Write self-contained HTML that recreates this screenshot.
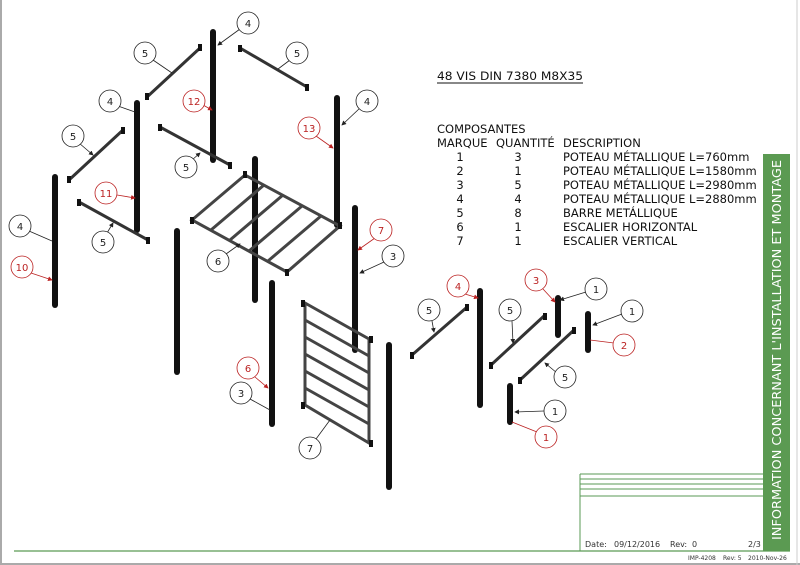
<!DOCTYPE html>
<html><head><meta charset="utf-8"><style>
html,body{margin:0;padding:0;background:#fff}
svg{display:block}
text{font-family:"DejaVu Sans","Liberation Sans",sans-serif}
</style></head><body>
<svg width="800" height="565" viewBox="0 0 800 565" xmlns="http://www.w3.org/2000/svg">
<defs>
<marker id="ab" markerWidth="6" markerHeight="6" refX="5" refY="3" orient="auto"><path d="M0,0 L6,3 L0,6z" fill="#222"/></marker>
<marker id="ar" markerWidth="6" markerHeight="6" refX="5" refY="3" orient="auto"><path d="M0,0 L6,3 L0,6z" fill="#b22"/></marker>
</defs>
<rect x="0" y="0" width="800" height="565" fill="#fff"/>
<line x1="1" y1="0" x2="1" y2="565" stroke="#aaa" stroke-width="2"/>
<line x1="0" y1="564" x2="800" y2="564" stroke="#aaa" stroke-width="2"/>
<line x1="797" y1="0" x2="797" y2="565" stroke="#ccc" stroke-width="1"/>
<line x1="14" y1="551" x2="790" y2="551" stroke="#5a9a55" stroke-width="1.2"/>
<!-- title block -->
<g stroke="#5a9a55" stroke-width="1" fill="none">
<line x1="580" y1="474" x2="763" y2="474"/>
<line x1="580" y1="479" x2="763" y2="479"/>
<line x1="580" y1="484" x2="763" y2="484"/>
<line x1="580" y1="489" x2="763" y2="489"/>
<line x1="580" y1="496" x2="763" y2="496"/>
<line x1="580" y1="474" x2="580" y2="551"/>
</g>
<rect x="763" y="154" width="27" height="397" fill="#5b9a52"/>
<text transform="translate(781,540) rotate(-90)" font-size="12.5" fill="#fff" textLength="380" lengthAdjust="spacingAndGlyphs">INFORMATION CONCERNANT L'INSTALLATION ET MONTAGE</text>
<text x="585" y="547" font-size="8" fill="#333">Date:</text>
<text x="614" y="547" font-size="8" fill="#333">09/12/2016</text>
<text x="670" y="547" font-size="8" fill="#333">Rev:</text>
<text x="692" y="547" font-size="8" fill="#333">0</text>
<text x="748" y="547" font-size="8" fill="#333">2/3</text>
<text x="688" y="560" font-size="6" fill="#333">IMP-4208</text>
<text x="723" y="560" font-size="6" fill="#333">Rev: 5</text>
<text x="748" y="560" font-size="6" fill="#333">2010-Nov-26</text>
<!-- header text -->
<g font-size="11.5" fill="#111">
<text x="437" y="80" textLength="146" lengthAdjust="spacingAndGlyphs">48 VIS DIN 7380 M8X35</text>
<line x1="437" y1="83" x2="583" y2="83" stroke="#111" stroke-width="1"/>
<text x="437" y="133">COMPOSANTES</text>
<text x="437" y="147">MARQUE</text>
<text x="496" y="147">QUANTITÉ</text>
<text x="563" y="147">DESCRIPTION</text>
<g text-anchor="middle">
<text x="460" y="161">1</text><text x="518" y="161">3</text>
<text x="460" y="175">2</text><text x="518" y="175">1</text>
<text x="460" y="189">3</text><text x="518" y="189">5</text>
<text x="460" y="203">4</text><text x="518" y="203">4</text>
<text x="460" y="217">5</text><text x="518" y="217">8</text>
<text x="460" y="231">6</text><text x="518" y="231">1</text>
<text x="460" y="245">7</text><text x="518" y="245">1</text>
</g>
<text x="563" y="161">POTEAU MÉTALLIQUE L=760mm</text>
<text x="563" y="175">POTEAU MÉTALLIQUE L=1580mm</text>
<text x="563" y="189">POTEAU MÉTALLIQUE L=2980mm</text>
<text x="563" y="203">POTEAU MÉTALLIQUE L=2880mm</text>
<text x="563" y="217">BARRE METÁLLIQUE</text>
<text x="563" y="231">ESCALIER HORIZONTAL</text>
<text x="563" y="245">ESCALIER VERTICAL</text>
</g>
<!-- posts -->
<g stroke="#111" stroke-width="6" stroke-linecap="round">
<line x1="213" y1="32" x2="213" y2="160"/>
<line x1="137" y1="103" x2="137" y2="230"/>
<line x1="55" y1="177" x2="55" y2="305"/>
<line x1="337" y1="98" x2="337" y2="225"/>
<line x1="255" y1="159" x2="255" y2="300"/>
<line x1="177" y1="231" x2="177" y2="372"/>
<line x1="355" y1="208" x2="355" y2="350"/>
<line x1="272" y1="283" x2="272" y2="424"/>
<line x1="389" y1="345" x2="389" y2="487"/>
<line x1="480" y1="291" x2="480" y2="405"/>
<line x1="558" y1="298" x2="558" y2="335"/>
<line x1="588" y1="314" x2="588" y2="350"/>
<line x1="510" y1="386" x2="510" y2="422"/>
</g>
<!-- bars -->
<g stroke="#333" stroke-width="3">
<line x1="147" y1="97" x2="200" y2="48"/>
<line x1="240" y1="48" x2="307" y2="87"/>
<line x1="69" y1="180" x2="123" y2="130"/>
<line x1="160" y1="127" x2="230" y2="165"/>
<line x1="79" y1="202" x2="148" y2="240"/>
<line x1="412" y1="355" x2="466" y2="308"/>
<line x1="491" y1="365" x2="544" y2="316"/>
<line x1="520" y1="380" x2="574" y2="330"/>
</g>
<g fill="#111">
<rect x="145" y="93" width="4" height="7"/><rect x="198" y="44" width="4" height="7"/>
<rect x="238" y="45" width="4" height="7"/><rect x="305" y="84" width="4" height="7"/>
<rect x="67" y="176" width="4" height="7"/><rect x="121" y="127" width="4" height="7"/>
<rect x="158" y="124" width="4" height="7"/><rect x="228" y="162" width="4" height="7"/>
<rect x="77" y="199" width="4" height="7"/><rect x="146" y="237" width="4" height="7"/>
<rect x="410" y="352" width="4" height="7"/><rect x="465" y="304" width="4" height="7"/>
<rect x="489" y="362" width="4" height="7"/><rect x="543" y="313" width="4" height="7"/>
<rect x="518" y="377" width="4" height="7"/><rect x="572" y="327" width="4" height="7"/>
</g>
<!-- platform 6 -->
<g stroke="#444" stroke-width="3" fill="none">
<polygon points="192,220 245,175 340,226 287,272"/>
<line x1="211" y1="230" x2="264" y2="185"/>
<line x1="230" y1="240" x2="283" y2="195"/>
<line x1="249" y1="251" x2="302" y2="206"/>
<line x1="268" y1="261" x2="321" y2="216"/>
</g>
<g fill="#111"><rect x="190" y="217" width="4" height="7"/><rect x="243" y="171" width="4" height="7"/><rect x="338" y="222" width="4" height="7"/><rect x="285" y="269" width="4" height="7"/></g>
<!-- ladder 7 -->
<g stroke="#444" stroke-width="3" fill="none">
<polygon points="305,303 369,339 369,443 305,405"/>
<line x1="305" y1="320" x2="369" y2="356"/>
<line x1="305" y1="337" x2="369" y2="373"/>
<line x1="305" y1="354" x2="369" y2="390"/>
<line x1="305" y1="371" x2="369" y2="407"/>
<line x1="305" y1="388" x2="369" y2="424"/>
</g>
<g fill="#111"><rect x="301" y="300" width="4" height="7"/><rect x="369" y="336" width="4" height="7"/><rect x="301" y="402" width="4" height="7"/><rect x="369" y="440" width="4" height="7"/></g>
<!-- labels -->
<g font-size="10" text-anchor="middle" fill="none">
<g stroke="#222" stroke-width="0.8">
<line x1="240" y1="29" x2="218" y2="45" marker-end="url(#ab)"/>
<line x1="153" y1="60" x2="172" y2="73"/>
<line x1="290" y1="60" x2="278" y2="69"/>
<line x1="118" y1="106" x2="135" y2="112"/>
<line x1="360" y1="108" x2="342" y2="125" marker-end="url(#ab)"/>
<line x1="79" y1="143" x2="93" y2="155" marker-end="url(#ab)"/>
<line x1="192" y1="160" x2="200" y2="153" marker-end="url(#ab)"/>
<line x1="29" y1="231" x2="52" y2="241"/>
<line x1="107" y1="233" x2="113" y2="223" marker-end="url(#ab)"/>
<line x1="226" y1="254" x2="240" y2="244" marker-end="url(#ab)"/>
<line x1="384" y1="262" x2="360" y2="273" marker-end="url(#ab)"/>
<line x1="250" y1="399" x2="270" y2="410"/>
<line x1="316" y1="439" x2="330" y2="420"/>
<line x1="432" y1="321" x2="434" y2="332" marker-end="url(#ab)"/>
<line x1="512" y1="321" x2="513" y2="343" marker-end="url(#ab)"/>
<line x1="586" y1="292" x2="560" y2="300" marker-end="url(#ab)"/>
<line x1="622" y1="314" x2="593" y2="325" marker-end="url(#ab)"/>
<line x1="557" y1="373" x2="545" y2="363" marker-end="url(#ab)"/>
<line x1="544" y1="411" x2="515" y2="412" marker-end="url(#ab)"/>
</g>
<g stroke="#b22" stroke-width="0.8">
<line x1="203" y1="105" x2="212" y2="110" marker-end="url(#ar)"/>
<line x1="316" y1="136" x2="333" y2="148" marker-end="url(#ar)"/>
<line x1="117" y1="195" x2="135" y2="198" marker-end="url(#ar)"/>
<line x1="31" y1="273" x2="52" y2="280" marker-end="url(#ar)"/>
<line x1="375" y1="238" x2="358" y2="250" marker-end="url(#ar)"/>
<line x1="255" y1="377" x2="268" y2="388" marker-end="url(#ar)"/>
<line x1="465" y1="294" x2="478" y2="298" marker-end="url(#ar)"/>
<line x1="543" y1="289" x2="555" y2="302" marker-end="url(#ar)"/>
<line x1="614" y1="343" x2="590" y2="340"/>
<line x1="537" y1="432" x2="512" y2="422"/>
</g>
<g stroke="#222" stroke-width="0.8" fill="#fff">
<circle cx="248" cy="23" r="11"/><circle cx="145" cy="53" r="11"/><circle cx="297" cy="53" r="11"/>
<circle cx="110" cy="101" r="11"/><circle cx="367" cy="101" r="11"/><circle cx="73" cy="136" r="11"/>
<circle cx="186" cy="167" r="11"/><circle cx="20" cy="226" r="11"/><circle cx="103" cy="242" r="11"/>
<circle cx="218" cy="261" r="11"/><circle cx="393" cy="256" r="11"/><circle cx="241" cy="393" r="11"/>
<circle cx="310" cy="448" r="11"/><circle cx="429" cy="310" r="11"/><circle cx="510" cy="310" r="11"/>
<circle cx="596" cy="289" r="11"/><circle cx="632" cy="311" r="11"/><circle cx="565" cy="377" r="11"/>
<circle cx="555" cy="411" r="11"/>
</g>
<g stroke="#b22" stroke-width="0.8" fill="#fff">
<circle cx="194" cy="101" r="11"/><circle cx="309" cy="128" r="11"/><circle cx="106" cy="193" r="11"/>
<circle cx="22" cy="267" r="11"/><circle cx="381" cy="230" r="11"/><circle cx="248" cy="368" r="11"/>
<circle cx="458" cy="286" r="11"/><circle cx="536" cy="280" r="11"/><circle cx="624" cy="345" r="11"/>
<circle cx="546" cy="437" r="11"/>
</g>
<g fill="#222">
<text x="248" y="27">4</text><text x="145" y="57">5</text><text x="297" y="57">5</text>
<text x="110" y="105">4</text><text x="367" y="105">4</text><text x="73" y="140">5</text>
<text x="186" y="171">5</text><text x="20" y="230">4</text><text x="103" y="246">5</text>
<text x="218" y="265">6</text><text x="393" y="260">3</text><text x="241" y="397">3</text>
<text x="310" y="452">7</text><text x="429" y="314">5</text><text x="510" y="314">5</text>
<text x="596" y="293">1</text><text x="632" y="315">1</text><text x="565" y="381">5</text>
<text x="555" y="415">1</text>
</g>
<g fill="#b22">
<text x="194" y="105">12</text><text x="309" y="132">13</text><text x="106" y="197">11</text>
<text x="22" y="271">10</text><text x="381" y="234">7</text><text x="248" y="372">6</text>
<text x="458" y="290">4</text><text x="536" y="284">3</text><text x="624" y="349">2</text>
<text x="546" y="441">1</text>
</g>
</g>
</svg>
</body></html>
